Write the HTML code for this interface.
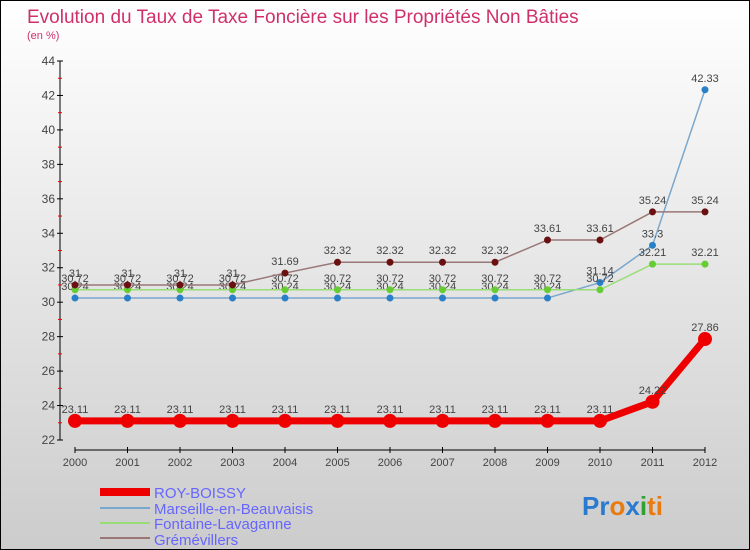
<!DOCTYPE html>
<html><head><meta charset="utf-8"><style>
body{margin:0;width:750px;height:550px;overflow:hidden;font-family:"Liberation Sans",sans-serif}
#wrap{position:absolute;left:0;top:0;width:748px;height:548px;border:1px solid #000;background:linear-gradient(#fff,#ccc)}
</style></head><body>
<div id="wrap"></div>
<svg id="chart" width="750" height="550" style="position:absolute;left:0;top:0">
<text x="27" y="23" font-size="19" fill="#d0306a">Evolution du Taux de Taxe Foncière sur les Propriétés Non Bâties</text>
<text x="27" y="39" font-size="11" fill="#d0306a">(en %)</text>
<g id="axes"></g><g id="series"></g>
<g>
<line x1="100" y1="492" x2="150" y2="492" stroke="#e00" stroke-width="8"/>
<text x="154" y="498" font-size="15" fill="#66f">ROY-BOISSY</text>
<line x1="100" y1="508" x2="150" y2="508" stroke="#7aa7cc" stroke-width="2"/>
<text x="154" y="514" font-size="15" fill="#66f">Marseille-en-Beauvaisis</text>
<line x1="100" y1="523" x2="150" y2="523" stroke="#99dd77" stroke-width="2"/>
<text x="154" y="529" font-size="15" fill="#66f">Fontaine-Lavaganne</text>
<line x1="100" y1="538" x2="150" y2="538" stroke="#997777" stroke-width="2"/>
<text x="154" y="545" font-size="15" fill="#66f">Grémévillers</text>
</g>
<text x="582" y="515" font-size="26" font-weight="bold"><tspan fill="#2a7ad0">Pr</tspan><tspan fill="#e87a10">o</tspan><tspan fill="#2a7ad0">x</tspan><tspan fill="#30a030">i</tspan><tspan fill="#e87a10">ti</tspan></text>
</svg>
<script>
const years=[2000,2001,2002,2003,2004,2005,2006,2007,2008,2009,2010,2011,2012];
const yTicks=[22,24,26,28,30,32,34,36,38,40,42,44];
const roy=[23.11,23.11,23.11,23.11,23.11,23.11,23.11,23.11,23.11,23.11,23.11,24.22,27.86];
const marseille=[30.24,30.24,30.24,30.24,30.24,30.24,30.24,30.24,30.24,30.24,31.14,33.3,42.33];
const fontaine=[30.72,30.72,30.72,30.72,30.72,30.72,30.72,30.72,30.72,30.72,30.72,32.21,32.21];
const gremevillers=[31,31,31,31,31.69,32.32,32.32,32.32,32.32,33.61,33.61,35.24,35.24];
const NS="http://www.w3.org/2000/svg";
const X=i=>75+i*(630/(years.length-1));
const Y=v=>440-(v-22)*(379/22);
function mk(t,a,p){const e=document.createElementNS(NS,t);for(const k in a)e.setAttribute(k,a[k]);p.appendChild(e);return e;}
const ax=document.getElementById('axes'),se=document.getElementById('series');
let l=mk('line',{x1:60,y1:Y(44),x2:60,y2:440,stroke:'#000'},ax);


l=mk('line',{x1:X(0),y1:450,x2:X(12),y2:450,stroke:'#000'},ax);


yTicks.forEach(v=>{mk('line',{x1:57,x2:63,y1:Y(v),y2:Y(v),stroke:'#000'},ax);
 if(v<44)mk('line',{x1:58,x2:62,y1:Y(v+1),y2:Y(v+1),stroke:'#e00'},ax);
 const t=mk('text',{x:55,y:Y(v)+4,'text-anchor':'end','font-size':12,fill:'#444'},ax);t.textContent=v;
 
 });
years.forEach((yr,i)=>{mk('line',{x1:X(i),x2:X(i),y1:447,y2:453,stroke:'#000'},ax);
 const t=mk('text',{x:X(i),y:466,'text-anchor':'middle','font-size':11,fill:'#444'},ax);t.textContent=yr;
 
 });
function draw(data,color,dot,w,r,name){
 const g=mk('g',{},se);
 
 
 mk('polyline',{points:data.map((v,i)=>X(i)+','+Y(v)).join(' '),fill:'none',stroke:color,'stroke-width':w},g);
 data.forEach((v,i)=>{const c=mk('circle',{cx:X(i),cy:Y(v),r:r,fill:dot},g);
  
  
  const t=mk('text',{x:X(i),y:Y(v)-8,'text-anchor':'middle','font-size':11,fill:'#444'},g);t.textContent=String(v);
  
  });
}
draw(marseille,'#7aa7cc','#2a80c8',1.5,3.5,'series-marseille');
draw(fontaine,'#99dd77','#66cc33',1.5,3.5,'series-fontaine');
draw(gremevillers,'#997777','#6a1010',1.5,3.5,'series-gremevillers');
draw(roy,'#e00','#e00',7,7,'series-roy-boissy');
</script>
</body></html>
